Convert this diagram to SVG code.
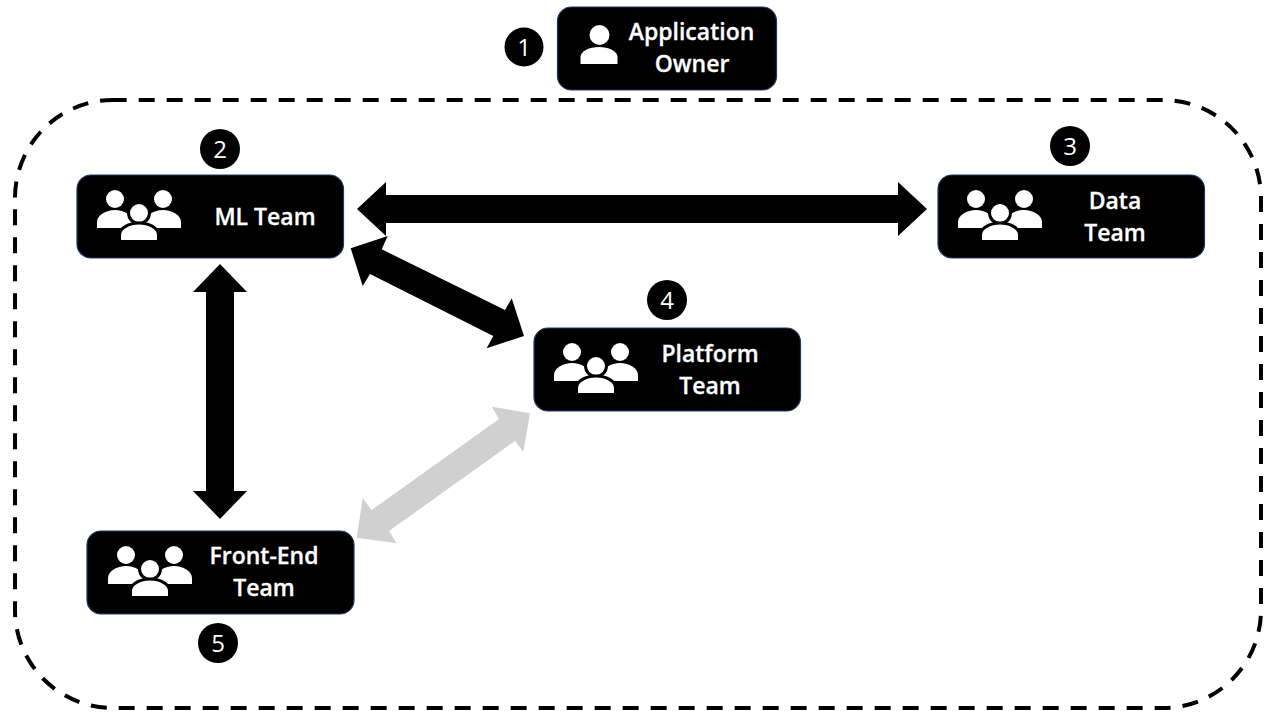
<svg xmlns="http://www.w3.org/2000/svg" width="1275" height="717" viewBox="0 0 1275 717">
<style>
.box{fill:#000;stroke:#1f3864;stroke-width:1.2}
.lbl{font-family:"Open Sans","Noto Sans","Liberation Sans",sans-serif;font-weight:600;font-size:23px;fill:#fff;stroke:#fff;stroke-width:.3;text-anchor:middle}
.num{font-family:"Open Sans","Noto Sans","Liberation Sans",sans-serif;font-size:24px;fill:#fff;text-anchor:middle}
.w{fill:#fff}
.h{stroke:#000;stroke-width:3;fill:#fff}
</style>
<defs>
<g id="person">
<circle class="w" cx="19" cy="10" r="10"/>
<path class="w" d="M0 39V32C0 26 9 22 18.500 22S37 26 37 32V39Z"/>
</g>
<g id="team">
<circle class="w" cx="18" cy="9" r="9"/>
<circle class="w" cx="66" cy="9" r="9"/>
<path class="w" d="M0 38V32C0 25 9 20 18 20S36 25 36 32V38Z"/>
<path class="w" d="M48 38V32C48 25 57 20 66 20S84 25 84 32V38Z"/>
<circle class="h" cx="42" cy="23" r="10.5"/>
<path class="h" d="M22.500 51.500V45C22.500 38 32 33 42 33S61.500 38 61.500 45V51.500Z"/>
</g>
</defs>
<rect id="boundary" x="15" y="100" width="1246" height="608" rx="98" ry="98" fill="none" stroke="#000" stroke-width="4" stroke-dasharray="16 12" stroke-dashoffset="2.300"/>
<g id="connectors">
<path id="ml-data" d="M357 209L386 182V195H898V182L927 209L898 236V223H386V236Z" fill="#000"/>
<path id="ml-frontend" d="M220 264L247 292H234V491H247L220 519L193 491H206V292H193Z" fill="#000"/>
<path id="ml-platform" d="M350.700 248.300L387.700 236L381.700 249.300L505 310L511.700 298.300L524 336L486.700 348.300L493.300 336L370 274L362.700 286Z" fill="#000"/>
<path id="platform-frontend" d="M530 413.300L491.700 406.700L499 419L371.700 510L362.700 498.300L356.700 537.700L396.700 543.300L389 531L515 441L523.300 451.700Z" fill="#d0d0d0"/>
</g>
<g id="node-owner">
<rect class="box" x="557.500" y="7" width="219" height="83" rx="14"/>
<use href="#person" x="580.500" y="25"/>
<text class="lbl" x="691.500" y="40">Application</text>
<text class="lbl" x="692" y="72">Owner</text>
<circle cx="524" cy="47" r="19.500" fill="#000"/>
<text class="num" x="524" y="56">1</text>
</g>
<g id="node-ml">
<rect class="box" x="77" y="175" width="266.500" height="83" rx="14"/>
<use href="#team" x="97" y="190"/>
<text class="lbl" x="265" y="225">ML Team</text>
<circle cx="220" cy="149" r="20" fill="#000"/>
<text class="num" x="220" y="158">2</text>
</g>
<g id="node-data">
<rect class="box" x="938" y="175" width="266.500" height="83" rx="14"/>
<use href="#team" x="958" y="190"/>
<text class="lbl" x="1115" y="209">Data</text>
<text class="lbl" x="1115" y="241">Team</text>
<circle cx="1070" cy="146" r="20" fill="#000"/>
<text class="num" x="1070" y="155">3</text>
</g>
<g id="node-platform">
<rect class="box" x="534" y="328" width="266.500" height="83" rx="14"/>
<use href="#team" x="554" y="343"/>
<text class="lbl" x="710" y="362">Platform</text>
<text class="lbl" x="710" y="394">Team</text>
<circle cx="667" cy="300" r="20" fill="#000"/>
<text class="num" x="667" y="309">4</text>
</g>
<g id="node-frontend">
<rect class="box" x="87" y="531" width="267" height="83" rx="14"/>
<use href="#team" x="108" y="546"/>
<text class="lbl" x="264" y="564">Front-End</text>
<text class="lbl" x="264" y="596">Team</text>
<circle cx="218" cy="643" r="20" fill="#000"/>
<text class="num" x="218" y="652">5</text>
</g>
</svg>
